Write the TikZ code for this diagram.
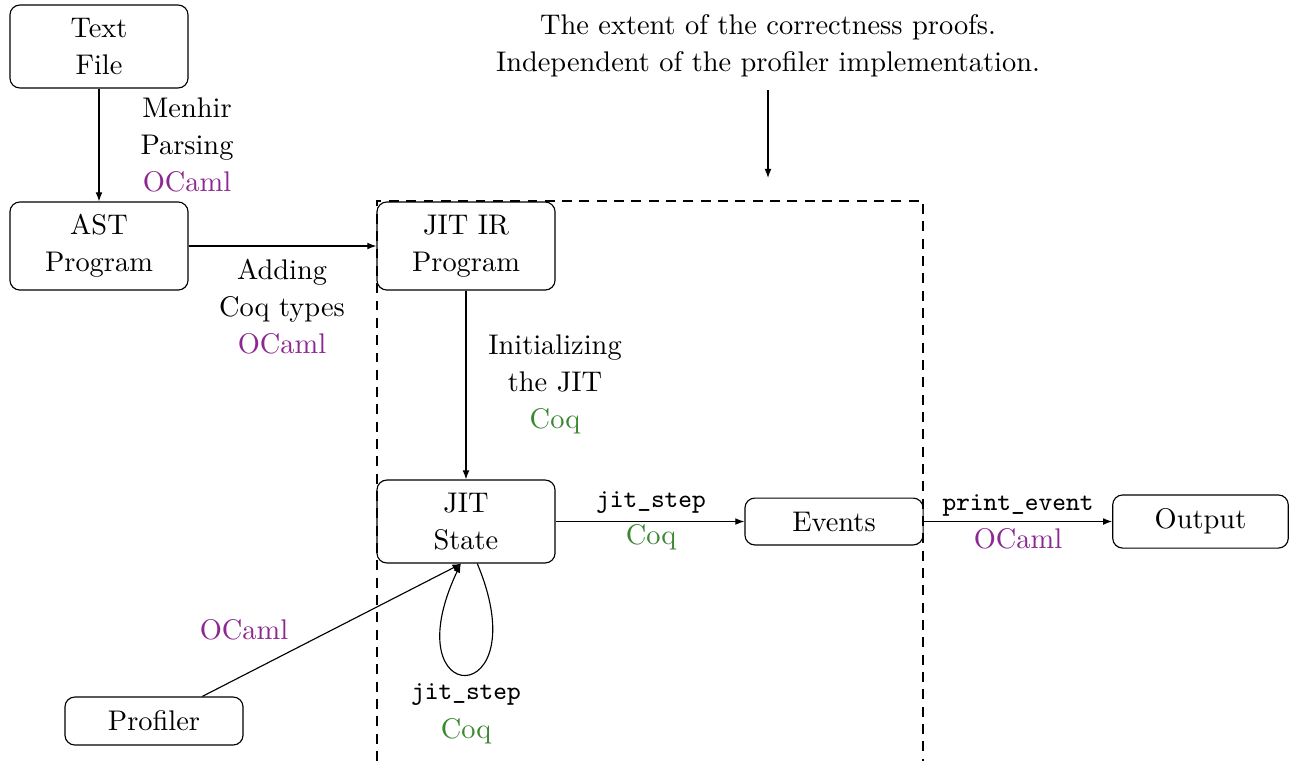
\documentclass[tikz,border=0pt]{standalone}
\usepackage{fontspec}
\usetikzlibrary{arrows.meta}
\definecolor{ocamlc}{RGB}{140,40,145}
\definecolor{coqc}{RGB}{60,135,50}
\newcommand\codetxt[1]{{\fontsize{9.2}{11}\selectfont\ttfamily #1}}
\begin{document}
\begin{tikzpicture}[x=0.352pt,y=-0.352pt,
  >={Latex[length=3.2pt,width=2.4pt]},
  box/.style={draw, rounded corners=3.5pt, minimum width=62.7pt, align=center,
    inner sep=0pt, font=\fontsize{10}{13}\selectfont},
  lbl/.style={align=center, inner sep=0pt, font=\fontsize{10}{13}\selectfont}]
\useasboundingbox (0,0) rectangle (1289,761);

% pipeline stages
\node[box, minimum height=29.2pt] (txt) at (99,46.5) {Text\\File};
\node[box, minimum height=31pt] (ast) at (99,246) {AST\\Program};
\node[box, minimum height=31pt] (ir) at (466,246) {JIT IR\\Program};
\node[box, minimum height=29.2pt] (st) at (466,521.5) {JIT\\State};
\node[box, minimum height=16.5pt] (ev) at (834,521.5) {Events};
\node[box, minimum height=18.7pt, minimum width=61.8pt] (out) at (1200.5,521.5) {Output};
\node[box, minimum height=16.9pt] (pr) at (154,721) {Profiler};

% region covered by the proofs
\draw[dash pattern=on 3.5pt off 2.6pt] (377,761) -- (377,201) -- (923,201) -- (923,761);
\node[lbl] (ext) at (768,45.5) {The extent of the correctness proofs.\\Independent of the profiler implementation.};
\coordinate (extend) at (768,178);
\draw[->, shorten <=4.6pt] (ext.south) -- (extend);

% transitions
\draw[->] (txt) -- (ast);
\draw[->] (ast) -- (ir);
\draw[->] (ir) -- (st);
\draw[->] (st) -- (ev);
\draw[->] (ev) -- (out);
\draw[->] (pr.27) -- (st.-96);
\draw[->] (st.-75) .. controls +(62,148) and +(-70,148) .. (st.-97);

% transition labels
\node[lbl] (l1) at (187,145) {Menhir\\Parsing\\\textcolor{ocamlc}{OCaml}};
\node[lbl] (l2) at (282,307) {Adding\\Coq types\\\textcolor{ocamlc}{OCaml}};
\node[lbl] (l3) at (555,384) {Initializing\\the JIT\\\textcolor{coqc}{Coq}};
\node[lbl] (l4a) at (651,503) {\codetxt{jit\_step}};
\node[lbl, text=coqc] (l4b) at (651,537) {Coq};
\node[lbl] (l5a) at (1018,505) {\codetxt{print\_event}};
\node[lbl, text=ocamlc] (l5b) at (1018,539) {OCaml};
\node[lbl, text=ocamlc] (l6) at (244,630) {OCaml};
\node[lbl] (l7a) at (466,695) {\codetxt{jit\_step}};
\node[lbl, text=coqc] (l7b) at (466,731) {Coq};
\end{tikzpicture}
\end{document}
